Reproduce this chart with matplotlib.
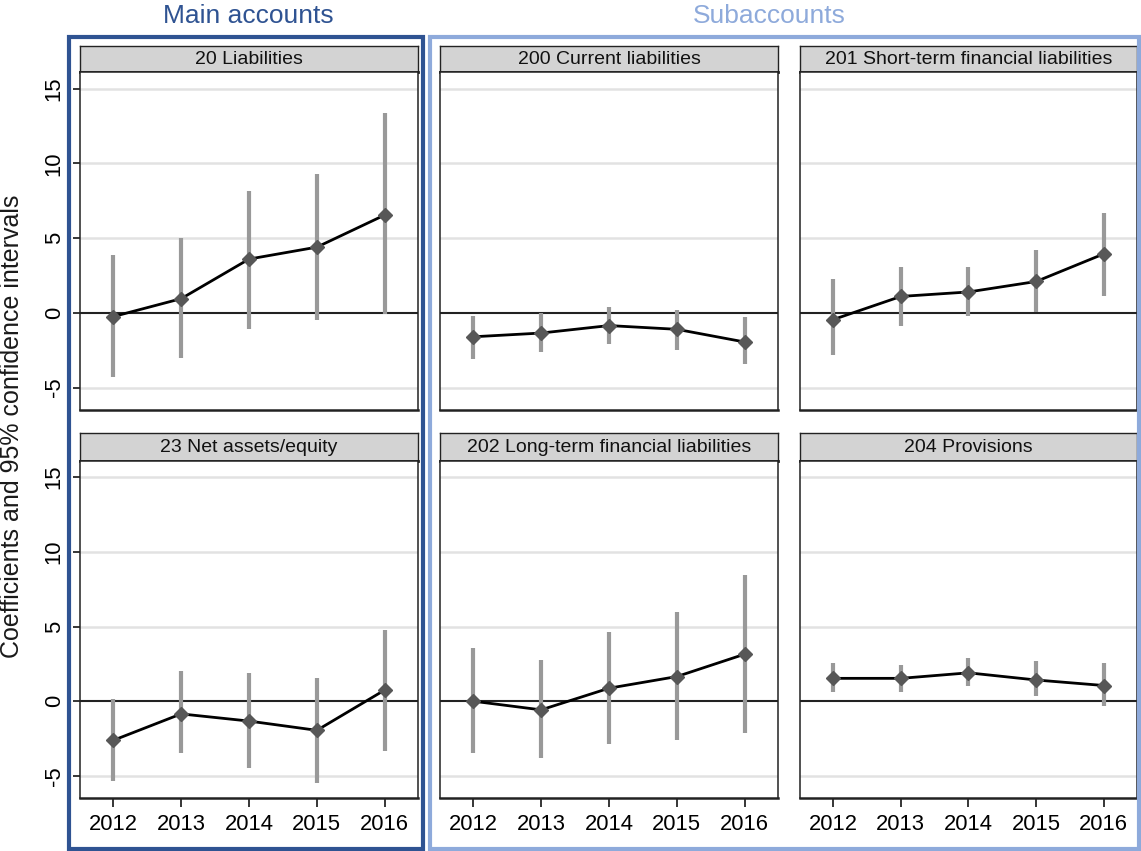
import matplotlib.pyplot as plt
from matplotlib.patches import Rectangle

plt.rcParams['font.family'] = ['Liberation Sans', 'DejaVu Sans']
plt.rcParams['axes.unicode_minus'] = False

years = [2012, 2013, 2014, 2015, 2016]

# 20 Liabilities
coef_20 = [-0.25, 0.95, 3.6, 4.4, 6.55]
lo_20 = [-4.3, -3.0, -1.1, -0.45, -0.05]
hi_20 = [3.85, 5.0, 8.15, 9.3, 13.35]

# 200 Current liabilities
coef_200 = [-1.6, -1.35, -0.85, -1.1, -1.95]
lo_200 = [-3.1, -2.6, -2.05, -2.5, -3.45]
hi_200 = [-0.18, 0.0, 0.4, 0.2, -0.27]

# 201 Short-term financial liabilities
coef_201 = [-0.45, 1.1, 1.4, 2.1, 3.95]
lo_201 = [-2.85, -0.9, -0.2, 0.05, 1.15]
hi_201 = [2.3, 3.1, 3.1, 4.2, 6.7]

# 23 Net assets/equity
coef_23 = [-2.62, -0.85, -1.33, -1.95, 0.75]
lo_23 = [-5.35, -3.5, -4.45, -5.47, -3.33]
hi_23 = [0.15, 2.0, 1.9, 1.53, 4.8]

# 202 Long-term financial liabilities
coef_202 = [0.0, -0.58, 0.87, 1.65, 3.15]
lo_202 = [-3.5, -3.8, -2.85, -2.58, -2.1]
hi_202 = [3.55, 2.75, 4.6, 6.0, 8.42]

# 204 Provisions
coef_204 = [1.53, 1.53, 1.9, 1.42, 1.05]
lo_204 = [0.6, 0.6, 1.0, 0.33, -0.33]
hi_204 = [2.55, 2.45, 2.9, 2.67, 2.53]

panels = [
    ("20 Liabilities", coef_20, lo_20, hi_20),
    ("200 Current liabilities", coef_200, lo_200, hi_200),
    ("201 Short-term financial liabilities", coef_201, lo_201, hi_201),
    ("23 Net assets/equity", coef_23, lo_23, hi_23),
    ("202 Long-term financial liabilities", coef_202, lo_202, hi_202),
    ("204 Provisions", coef_204, lo_204, hi_204),
]

W, H = 1141, 851
fig = plt.figure(figsize=(W / 100, H / 100), dpi=100)
fig.patch.set_facecolor('white')


def px_axes(x0, y0, x1, y1):
    return fig.add_axes([x0 / W, 1 - y1 / H, (x1 - x0) / W, (y1 - y0) / H])


cols = [(80, 418), (440, 778), (800, 1137)]
rows = [(45.7, 72.3, 410), (433.3, 460.7, 798.3)]

dark_blue = '#2F5392'
light_blue = '#8EAADB'

for i, (title, coef, lo, hi) in enumerate(panels):
    r, c = divmod(i, 3)
    x0, x1 = cols[c]
    h0, p0, p1 = rows[r]

    # header strip
    hd = px_axes(x0, h0, x1, p0)
    hd.set_facecolor('#d3d3d3')
    hd.set_xticks([])
    hd.set_yticks([])
    for s in hd.spines.values():
        s.set_linewidth(1.0)
        s.set_color('#222222')
    hd.spines['bottom'].set_linewidth(2.0)
    hd.text(0.5, 0.5, title, ha='center', va='center', fontsize=14,
            color='#111111', transform=hd.transAxes)

    ax = px_axes(x0, p0, x1, p1)
    for y in [-5, 5, 10, 15]:
        ax.axhline(y, color='#e2e2e2', lw=1.8, zorder=0)
    ax.axhline(0, color='#222222', lw=1.5, zorder=1)
    ax.vlines(years, lo, hi, color='#999999', lw=3.0, zorder=2)
    ax.plot(years, coef, color='black', lw=2.0, zorder=3)
    ax.plot(years, coef, 'D', color='#575757', ms=7.2, zorder=4)

    ax.set_xlim(2011.51, 2016.49)
    ax.set_ylim(-6.5, 16.1)
    ax.set_xticks(years)
    ax.set_yticks([-5, 0, 5, 10, 15])
    for s in ax.spines.values():
        s.set_linewidth(1.1)
        s.set_color('#222222')
    ax.spines['bottom'].set_linewidth(1.8)

    ax.tick_params(axis='x', direction='out', length=6.5, width=1.1,
                   labelsize=15.8, pad=5, bottom=(r == 1), labelbottom=(r == 1))
    ax.tick_params(axis='y', direction='out', length=5, width=1.1,
                   labelsize=15.8, pad=6, labelrotation=90,
                   left=(c == 0), labelleft=(c == 0))
    for lab in ax.get_yticklabels():
        lab.set_va('center')

# group boxes
fig.add_artist(Rectangle((69 / W, 1 - 849 / H), (423 - 69) / W, (849 - 37) / H,
                         fill=False, lw=3, ec=dark_blue, transform=fig.transFigure))
fig.add_artist(Rectangle((430 / W, 1 - 849 / H), (1139 - 430) / W, (849 - 37) / H,
                         fill=False, lw=3, ec=light_blue, transform=fig.transFigure))

fig.text(248 / W, 1 - 16 / H, "Main accounts", ha='center', va='center',
         fontsize=19, color=dark_blue)
fig.text(769 / W, 1 - 16 / H, "Subaccounts", ha='center', va='center',
         fontsize=19, color=light_blue)

fig.text(12 / W, 1 - 426 / H, "Coefficients and 95% confidence intervals",
         rotation=90, ha='center', va='center', fontsize=18, color='#1a1a1a')

fig.savefig('out.png', dpi=100)
